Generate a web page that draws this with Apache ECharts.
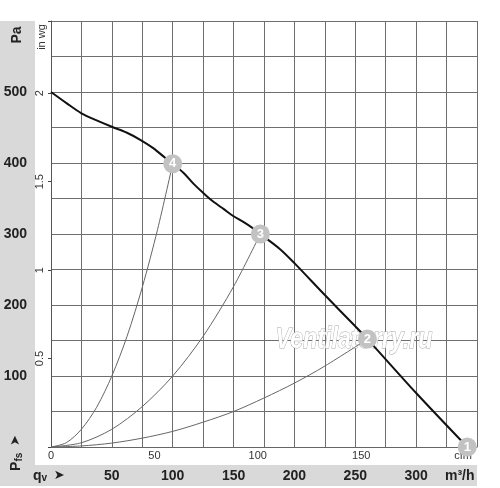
<!DOCTYPE html>
<html>
<head>
<meta charset="utf-8">
<script src="https://cdn.jsdelivr.net/npm/echarts@6/dist/echarts.min.js"></script>
<style>
html, body { margin: 0; padding: 0; background: #fff; }
#chart { width: 500px; height: 488px; }
</style>
</head>
<body>
<div id="chart"></div>
<script>
// fan curve: air flow (m3/h) against static pressure (Pa)
const curveQ = [0, 13, 25, 37.5, 50, 62, 73, 84, 94, 100, 109, 117, 125, 133, 142, 150, 158, 166, 172, 188, 200, 225, 250, 260, 300, 342];
const curveP = [500, 484, 470, 460, 451, 443, 433, 421, 407, 399, 386, 371, 358, 346, 335, 325, 317, 308, 300, 279, 259, 214, 170, 152, 76, 0];
// system lines
const line4Q = [0, 12.5, 25, 37.5, 50, 62.5, 75, 87.5, 100];
const line4P = [0, 6, 25, 56, 100, 156, 225, 306, 399];
const line3Q = [0, 25, 50, 75, 100, 125, 150, 172];
const line3P = [0, 6, 25, 57, 100, 156, 226, 300];
const line2Q = [0, 25, 50, 75, 100, 125, 150, 175, 200, 225, 260];
const line2P = [0, 1.5, 5.5, 12.5, 22, 35, 50, 69, 90, 114, 152];
// operating points
const pointQ = [342, 260, 172, 100];
const pointP = [0, 152, 300, 399];
const pointNames = ['1', '2', '3', '4'];
// tick labels
const paTicks = [100, 200, 300, 400, 500];
const flowTicks = [50, 100, 150, 200, 250, 300];
const wgTicks = [0.5, 1, 1.5, 2];
const cfmTicks = [0, 50, 100, 150];

const PA_PER_INWG = 249.09;
const M3H_PER_CFM = 1.699;

function pairs(xs, ys) {
    return xs.map((x, i) => [x, ys[i]]);
}

var chart = echarts.init(document.getElementById('chart'));
var gridColor = '#6e6e6e';
var option = {
    animation: false,
    textStyle: { fontFamily: 'Liberation Sans' },
    grid: { left: 51, top: 21, width: 426, height: 426 },
    xAxis: [{
        type: 'value', min: 0, max: 350, interval: 25, position: 'bottom',
        axisLine: { show: true, lineStyle: { color: '#666' } },
        axisTick: { show: false },
        splitLine: { lineStyle: { color: gridColor, width: 1 } },
        axisLabel: {
            margin: 22, fontSize: 14, fontWeight: 'bold', color: '#222',
            formatter: v => flowTicks.includes(v) ? String(v) : ''
        }
    }, {
        type: 'value', min: 0, max: 350 / M3H_PER_CFM, interval: 50, position: 'bottom',
        axisLine: { show: false },
        axisTick: { show: false },
        splitLine: { show: false },
        axisLabel: {
            margin: 3, fontSize: 11, color: '#333',
            formatter: v => cfmTicks.includes(v) ? String(v) : ''
        }
    }],
    yAxis: [{
        type: 'value', min: 0, max: 600, interval: 50, position: 'left',
        axisLine: { show: true, lineStyle: { color: '#555' } },
        axisTick: { show: false },
        splitLine: { lineStyle: { color: gridColor, width: 1 } },
        axisLabel: {
            margin: 24, fontSize: 14, fontWeight: 'bold', color: '#222',
            formatter: v => paTicks.includes(v) ? String(v) : ''
        }
    }, {
        type: 'value', min: 0, max: 600 / PA_PER_INWG, interval: 0.5, position: 'left',
        axisLine: { show: false },
        axisTick: { show: true, length: 3, lineStyle: { color: '#444' } },
        splitLine: { show: false },
        axisLabel: {
            rotate: 90, margin: 6, fontSize: 11, color: '#333',
            formatter: v => wgTicks.includes(v) ? String(v) : ''
        }
    }],
    graphic: [
        { type: 'rect', z: -1, shape: { x: 0, y: 21, width: 35, height: 465 }, style: { fill: '#d9d9d9' } },
        { type: 'rect', z: -1, shape: { x: 0, y: 465, width: 477, height: 21 }, style: { fill: '#d9d9d9' } },
        { type: 'text', x: 17, y: 35, rotation: Math.PI / 2,
          style: { text: 'Pa', font: 'bold 14px Liberation Sans', fill: '#222', align: 'center', verticalAlign: 'middle' } },
        { type: 'text', x: 42, y: 37, rotation: Math.PI / 2,
          style: { text: 'in wg', font: '11px Liberation Sans', fill: '#333', align: 'center', verticalAlign: 'middle' } },
        { type: 'text', x: 16, y: 453, rotation: Math.PI / 2,
          style: {
              text: '{p|P}{s|fs}  {a|➤}', align: 'center', verticalAlign: 'middle',
              rich: {
                  p: { font: 'bold 14px Liberation Sans', fill: '#222' },
                  s: { font: 'bold 10px Liberation Sans', fill: '#222', padding: [6, 0, 0, 0] },
                  a: { font: 'bold 13px DejaVu Sans', fill: '#222' }
              }
          } },
        { type: 'text', x: 33, y: 476,
          style: {
              text: '{q|q}{s|v}  {a|➤}', align: 'left', verticalAlign: 'middle',
              rich: {
                  q: { font: 'bold 14px Liberation Sans', fill: '#222' },
                  s: { font: 'bold 10px Liberation Sans', fill: '#222', padding: [5, 0, 0, 0] },
                  a: { font: 'bold 13px DejaVu Sans', fill: '#222' }
              }
          } },
        { type: 'text', x: 445, y: 476,
          style: { text: 'm³/h', font: 'bold 14px Liberation Sans', fill: '#222', align: 'left', verticalAlign: 'middle' } },
        { type: 'text', x: 463, y: 456,
          style: { text: 'cfm', font: '11px Liberation Sans', fill: '#333', align: 'center', verticalAlign: 'middle' } },
        { type: 'text', x: 354, y: 340, z: 1, scaleX: 0.8,
          style: { text: 'Ventilatorry.ru', font: 'italic bold 29px Liberation Sans', fill: '#ffffff',
                   stroke: '#a8a8a8', lineWidth: 1, align: 'center', verticalAlign: 'middle' } }
    ],
    series: [{
        type: 'line', data: pairs(line4Q, line4P), smooth: 0.3, showSymbol: false,
        lineStyle: { color: '#666', width: 1 }, z: 2
    }, {
        type: 'line', data: pairs(line3Q, line3P), smooth: 0.3, showSymbol: false,
        lineStyle: { color: '#666', width: 1 }, z: 2
    }, {
        type: 'line', data: pairs(line2Q, line2P), smooth: 0.3, showSymbol: false,
        lineStyle: { color: '#666', width: 1 }, z: 2
    }, {
        type: 'line', data: pairs(curveQ, curveP), smooth: 0.3, showSymbol: false,
        lineStyle: { color: '#111', width: 2 }, z: 3
    }, {
        type: 'scatter', symbolSize: 19, z: 5,
        data: pointQ.map((q, i) => [q, pointP[i], pointNames[i]]),
        itemStyle: { color: '#c2c2c2', opacity: 1 },
        label: {
            show: true, position: 'inside', formatter: p => p.data[2],
            color: '#fff', fontWeight: 'bold', fontSize: 13
        }
    }]
};
chart.setOption(option);
</script>
</body>
</html>
